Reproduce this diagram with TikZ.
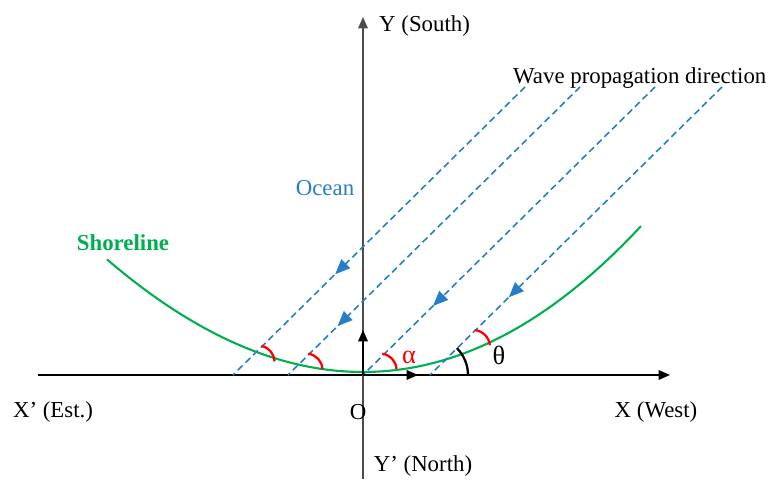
\documentclass[tikz,border=0pt]{standalone}
\usepackage{fontspec}
\setmainfont{Liberation Serif}
\usetikzlibrary{arrows.meta,decorations.markings}
\definecolor{oceanblue}{RGB}{38,126,200}
\definecolor{shoregreen}{RGB}{0,176,80}
\tikzset{
  every node/.style={font=\fontsize{13}{15}\selectfont},
  axis/.style={line width=0.8pt, ->},
  wave/.style={oceanblue, line width=0.9pt, dash pattern=on 3.8pt off 2.3pt,
    postaction={decorate, decoration={markings,
      mark=at position #1 with {\arrow{Triangle[length=8.5pt,width=7pt]}}}}},
  redarc/.style={red, line width=1.3pt},
  greek/.style={font=\fontsize{15}{17}\selectfont}
}
\begin{document}
\begin{tikzpicture}[>={Triangle[length=6.5pt,width=5.5pt]}]
  \useasboundingbox (-7.26,-2.08) rectangle (8.18,7.5);
  % axes
  \coordinate (O) at (0,0);
  \coordinate (xl) at (-6.5,0);
  \coordinate (xr) at (6.14,0);
  \coordinate (yb) at (0,-2.08);
  \coordinate (yt) at (0,7.16);
  \draw[axis] (xl) -- (xr);
  \draw[axis, black!70] (yb) -- (yt);
  % shoreline
  \draw[shoregreen, line width=1.2pt, domain=-5.12:5.56, samples=80, smooth]
    plot (\x, {0.06+0.09*\x*\x+0.0008*\x*\x*\x});
  % wave rays
  \coordinate (w1t) at (3.24,5.76);  \coordinate (w1b) at (-2.6,0);
  \coordinate (w2t) at (4.34,5.76);  \coordinate (w2b) at (-1.5,0);
  \coordinate (w3t) at (5.84,5.76);  \coordinate (w3b) at (O);
  \coordinate (w4t) at (7.18,5.76);  \coordinate (w4b) at (1.34,0);
  \draw[wave=0.65] (w1t) -- (w1b);
  \draw[wave=0.83] (w2t) -- (w2b);
  \draw[wave=0.76] (w3t) -- (w3b);
  \draw[wave=0.73] (w4t) -- (w4b);
  % unit vectors at O
  \coordinate (ex) at (1.1,0);
  \coordinate (ey) at (0,0.9);
  \draw[->, line width=0.8pt] (O) -- (ex);
  \draw[->, line width=0.8pt] (O) -- (ey);
  % angles
  \draw[redarc] (-2.1,0.26) ++(78:0.33) arc[start angle=78, end angle=2, radius=0.33];
  \draw[redarc] (-1.14,0.1) ++(82:0.33) arc[start angle=82, end angle=4, radius=0.33];
  \draw[redarc] (0.34,0.1) ++(82:0.33) arc[start angle=82, end angle=4, radius=0.33];
  \draw[redarc] (2.2,0.56) ++(84:0.34) arc[start angle=84, end angle=6, radius=0.34];
  \draw[line width=1.3pt] (w4b) ++(0:0.76) arc[start angle=0, end angle=45, radius=0.76];
  % labels
  \node[greek, red] (alpha) at (0.92,0.36) {α};
  \node[greek] (theta) at (2.72,0.4) {θ};
  \node[anchor=west] (ysouth) at (0.2,6.98) {Y (South)};
  \node[anchor=west] (wavedir) at (2.88,5.94) {Wave propagation direction};
  \node[oceanblue] (ocean) at (-0.76,3.74) {Ocean};
  \node[shoregreen, font=\fontsize{13}{15}\selectfont\bfseries] (shore) at (-4.8,2.64) {Shoreline};
  \node (xest) at (-6.2,-0.74) {X’ (Est.)};
  \node (olab) at (-0.1,-0.74) {O};
  \node (xwest) at (5.86,-0.74) {X (West)};
  \node (ynorth) at (1.2,-1.82) {Y’ (North)};
\end{tikzpicture}
\end{document}
